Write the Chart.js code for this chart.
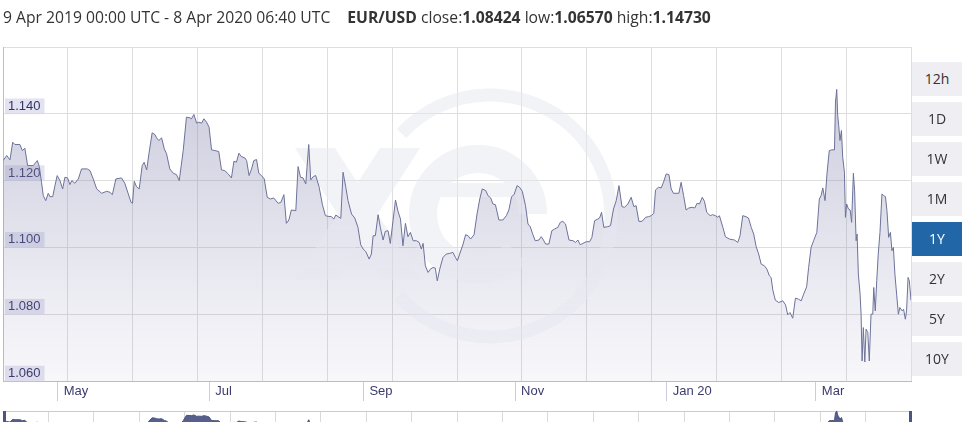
<!DOCTYPE html>
<html>
<head>
<meta charset="utf-8">
<script src="https://cdn.jsdelivr.net/npm/chart.js@4.4.0/dist/chart.umd.min.js"></script>
<style>
  html, body { margin: 0; padding: 0; background: #fff; overflow: hidden; }
  #wrap { position: relative; width: 967px; height: 422px; font-family: "Open Sans", sans-serif; }
  #main { position: absolute; left: 0; top: 0; }
  #nav { position: absolute; left: 0; top: 408px; }
  #title { position: absolute; left: 3px; top: 7px; font-size: 15.7px; line-height: 21px; color: #333; white-space: nowrap; }
  #title b { font-weight: 700; }
  .btn { position: absolute; left: 912px; width: 50px; height: 34px; line-height: 34px; text-align: center;
         background: #eeeef3; color: #333; font-size: 14px; }
  .btn.on { background: #2166a7; color: #fff; }
  .handle { position: absolute; top: 411px; width: 3px; height: 11px; background: #4c5580; }
</style>
</head>
<body>
<div id="wrap">
  <canvas id="main" width="967" height="405"></canvas>
  <canvas id="nav" width="967" height="50"></canvas>
  <div id="title">9 Apr 2019 00:00 UTC - 8 Apr 2020 06:40 UTC<span style="margin-left:17px"><b>EUR/USD</b> close:<b>1.08424</b> low:<b>1.06570</b> high:<b>1.14730</b></span></div>
  <div class="btn" style="top:62px">12h</div>
  <div class="btn" style="top:102px">1D</div>
  <div class="btn" style="top:142px">1W</div>
  <div class="btn" style="top:182px">1M</div>
  <div class="btn on" style="top:222px">1Y</div>
  <div class="btn" style="top:262px">2Y</div>
  <div class="btn" style="top:302px">5Y</div>
  <div class="btn" style="top:342px">10Y</div>
  <div class="handle" style="left:3px"></div>
  <div class="handle" style="left:909px"></div>
</div>
<script>
// days since 9 Apr 2019 00:00 UTC
var days = [
  0, 1.5, 2.8, 3.9, 4.8, 6.8, 7.8, 8.8, 9.9, 12.2, 13.8, 14.6, 15.5, 16.2, 17.2, 18.2, 18.9, 20.0, 20.9, 21.8,
  22.9, 24.0, 24.9, 26.0, 26.9, 27.7, 28.9, 30.3, 31.6, 33.9, 35.0, 36.3, 37.7, 39.7, 41.7, 43.0, 44.0, 45.4, 47.7, 49.0,
  50.4, 51.5, 52.1, 52.8, 53.7, 54.8, 56.0, 56.8, 57.8, 58.7, 60.0, 61.1, 61.8, 62.7, 63.8, 64.9, 65.8, 67.1, 68.5, 69.8,
  70.9, 72.5, 73.8, 75.2, 75.8, 76.8, 77.9, 78.8, 79.9, 80.8, 81.9, 82.9, 83.9, 85.2, 86.8, 87.9, 89.2, 90.6, 91.9, 92.9,
  93.9, 94.9, 95.9, 97.3, 98.0, 99.0, 100.0, 100.9, 102.0, 102.9, 104.0, 105.1, 106.3, 107.6, 108.9, 110.7, 111.8, 113.0, 114.0, 115.0,
  116.0, 117.8, 118.7, 119.7, 120.7, 121.8, 123.0, 123.8, 124.8, 125.8, 127.2, 128.5, 129.7, 130.8, 132.1, 133.1, 133.9, 134.8, 135.9, 136.8,
  137.9, 138.8, 140.2, 141.5, 142.8, 143.9, 144.9, 145.9, 147.3, 148.2, 148.9, 149.8, 150.9, 151.8, 152.9, 153.8, 154.9, 155.8, 156.9, 157.9,
  158.9, 159.9, 160.9, 161.9, 162.9, 163.9, 165.0, 166.3, 167.4, 168.3, 169.0, 169.9, 171.0, 171.9, 173.0, 173.9, 174.7, 175.7, 177.0, 178.3,
  179.7, 181.0, 182.0, 182.8, 183.7, 185.1, 186.1, 187.1, 188.1, 189.5, 190.7, 191.8, 192.8, 194.2, 195.1, 196.2, 197.1, 198.1, 199.5, 201.1,
  202.5, 203.5, 204.6, 205.6, 206.8, 207.8, 208.9, 210.2, 211.2, 212.1, 213.2, 214.1, 215.6, 216.5, 217.2, 218.3, 219.6, 220.8, 221.9, 223.2,
  224.2, 225.2, 226.3, 227.7, 229.3, 230.3, 231.3, 232.2, 233.3, 234.6, 236.0, 236.9, 238.0, 239.3, 240.0, 240.8, 241.7, 243.3, 244.4, 245.6,
  246.7, 247.8, 249.0, 250.0, 251.4, 252.7, 253.8, 254.7, 255.8, 257.1, 258.5, 259.7, 260.8, 261.8, 262.5, 263.7, 264.8, 265.7, 266.8, 267.9,
  268.8, 269.7, 270.8, 271.9, 272.8, 273.8, 274.8, 275.9, 277.2, 278.3, 279.2, 280.2, 281.3, 282.2, 283.1, 284.5, 285.5, 286.6, 287.6, 288.2,
  289.6, 290.6, 292.2, 294.3, 295.6, 296.5, 297.6, 298.9, 299.9, 301.0, 302.0, 303.0, 304.0, 305.0, 306.3, 307.3, 308.3, 309.0, 309.7, 310.7,
  312.1, 313.7, 314.8, 315.7, 316.6, 317.7, 318.8, 320.0, 321.1, 322.1, 323.3, 324.1, 325.1, 326.1, 327.4, 328.4, 329.1, 329.8, 330.7, 331.5,
  332.4, 333.4, 334.5, 334.9, 335.4, 335.8, 336.2, 336.7, 337.3, 337.8, 338.5, 338.9, 339.4, 340.1, 340.8, 341.4, 342.1, 342.6, 343.2, 343.6,
  344.1, 344.8, 345.2, 345.6, 346.1, 346.7, 347.2, 347.9, 348.5, 349.2, 349.9, 350.3, 350.9, 351.5, 352.1, 352.8, 353.6, 354.3, 355.0, 355.6,
  356.3, 357.0, 357.6, 358.2, 358.8, 359.5, 360.2, 360.8, 361.7, 362.3, 363.0, 363.5, 364.1, 364.6, 365.28
];
var rates = [
  1.1260, 1.1275, 1.1262, 1.1315, 1.1308, 1.1308, 1.1290, 1.1297, 1.1245, 1.1245, 1.1260, 1.1242, 1.1195, 1.1155, 1.1140, 1.1162, 1.1152, 1.1152, 1.1185, 1.1215,
  1.1200, 1.1175, 1.1210, 1.1208, 1.1188, 1.1200, 1.1192, 1.1205, 1.1235, 1.1235, 1.1230, 1.1205, 1.1175, 1.1162, 1.1168, 1.1165, 1.1158, 1.1205, 1.1208, 1.1192,
  1.1160, 1.1135, 1.1132, 1.1198, 1.1182, 1.1175, 1.1245, 1.1255, 1.1232, 1.1280, 1.1343, 1.1338, 1.1328, 1.1320, 1.1328, 1.1295, 1.1280, 1.1235, 1.1222, 1.1218,
  1.1200, 1.1290, 1.1390, 1.1388, 1.1385, 1.1398, 1.1372, 1.1375, 1.1372, 1.1385, 1.1375, 1.1360, 1.1292, 1.1290, 1.1287, 1.1232, 1.1230, 1.1220, 1.1208, 1.1258,
  1.1255, 1.1282, 1.1272, 1.1268, 1.1260, 1.1215, 1.1235, 1.1260, 1.1263, 1.1222, 1.1215, 1.1205, 1.1150, 1.1145, 1.1148, 1.1132, 1.1135, 1.1158, 1.1072, 1.1082,
  1.1112, 1.1110, 1.1242, 1.1210, 1.1208, 1.1190, 1.1308, 1.1202, 1.1212, 1.1215, 1.1180, 1.1128, 1.1095, 1.1093, 1.1092, 1.1085, 1.1097, 1.1092, 1.1087, 1.1225,
  1.1180, 1.1140, 1.1100, 1.1088, 1.1060, 1.1008, 1.0995, 1.0988, 1.0965, 1.0980, 1.1035, 1.1035, 1.1098, 1.1060, 1.1022, 1.1048, 1.1050, 1.1012, 1.1080, 1.1142,
  1.1108, 1.1085, 1.1005, 1.1072, 1.1032, 1.1045, 1.1020, 1.1020, 1.1015, 1.0995, 1.1012, 1.0945, 1.0925, 1.0935, 1.0940, 1.0938, 1.0900, 1.0935, 1.0970, 1.0980,
  1.0982, 1.0985, 1.0970, 1.0960, 1.0980, 1.1010, 1.1038, 1.1035, 1.1025, 1.1038, 1.1100, 1.1145, 1.1175, 1.1170, 1.1155, 1.1148, 1.1130, 1.1128, 1.1082, 1.1082,
  1.1095, 1.1112, 1.1152, 1.1158, 1.1185, 1.1180, 1.1168, 1.1125, 1.1070, 1.1062, 1.1038, 1.1020, 1.1022, 1.1032, 1.1025, 1.1010, 1.1010, 1.1050, 1.1055, 1.1060,
  1.1075, 1.1078, 1.1070, 1.1022, 1.1020, 1.1015, 1.1022, 1.1008, 1.1012, 1.1017, 1.1017, 1.1030, 1.1080, 1.1085, 1.1088, 1.1105, 1.1060, 1.1062, 1.1065, 1.1115,
  1.1140, 1.1185, 1.1122, 1.1120, 1.1130, 1.1150, 1.1122, 1.1125, 1.1078, 1.1078, 1.1090, 1.1092, 1.1095, 1.1102, 1.1172, 1.1180, 1.1178, 1.1195, 1.1220, 1.1218,
  1.1175, 1.1162, 1.1162, 1.1162, 1.1195, 1.1155, 1.1112, 1.1118, 1.1120, 1.1118, 1.1132, 1.1130, 1.1150, 1.1138, 1.1105, 1.1095, 1.1098, 1.1095, 1.1090, 1.1095,
  1.1060, 1.1032, 1.1025, 1.1022, 1.1015, 1.1035, 1.1095, 1.1092, 1.1088, 1.1060, 1.1040, 1.1002, 1.0980, 1.0950, 1.0945, 1.0935, 1.0915, 1.0910, 1.0872, 1.0842,
  1.0835, 1.0840, 1.0828, 1.0798, 1.0805, 1.0788, 1.0848, 1.0845, 1.0840, 1.0860, 1.0882, 1.0940, 1.1000, 1.1020, 1.1045, 1.1145, 1.1155, 1.1178, 1.1140, 1.1222,
  1.1290, 1.1292, 1.1292, 1.1435, 1.1473, 1.1395, 1.1365, 1.1320, 1.1350, 1.1270, 1.1225, 1.1090, 1.1130, 1.1115, 1.1112, 1.1075, 1.1222, 1.1170, 1.1020, 1.1040,
  1.0920, 1.0860, 1.0800, 1.0660, 1.0760, 1.0657, 1.0755, 1.0745, 1.0660, 1.0800, 1.0800, 1.0880, 1.0810, 1.0900, 1.0980, 1.1045, 1.1160, 1.1155, 1.1152, 1.1110,
  1.1030, 1.1045, 1.0990, 1.1000, 1.0920, 1.0860, 1.0800, 1.0820, 1.0810, 1.0815, 1.0785, 1.0810, 1.0910, 1.0900, 1.0842
];
var monthDays = [22, 83, 145, 206, 267, 327];
var monthLabels = ['May', 'Jul', 'Sep', 'Nov', 'Jan 20', 'Mar'];
var rateTicks = [1.06, 1.08, 1.10, 1.12, 1.14];
var rateMin = 1.06, rateMax = 1.16;
var lastDay = 365.28;

var points = days.map(function(d, i) { return {x: d, y: rates[i]}; });
var axisFont = {family: '"Liberation Sans", Arial, sans-serif', size: 13};

function areaFill(ctx) {
  var area = ctx.chart.chartArea;
  if (!area) return 'rgba(133,133,175,0.3)';
  var g = ctx.chart.ctx.createLinearGradient(0, area.top, 0, area.bottom);
  g.addColorStop(0, 'rgba(130,131,172,0.47)');
  g.addColorStop(1, 'rgba(150,150,190,0.07)');
  return g;
}

// faint "xe" logo behind the line
var watermark = {
  id: 'watermark',
  beforeDatasetDraw: function(chart) {
    var a = chart.chartArea;
    if (!this.off) {
      var off = document.createElement('canvas');
      off.width = chart.width; off.height = chart.height;
      var o = off.getContext('2d');
      o.fillStyle = o.strokeStyle = 'rgb(230,231,240)';
      o.lineWidth = 13;
      o.beginPath();
      o.arc(490, 216, 121, -137 * Math.PI / 180, 139 * Math.PI / 180);
      o.stroke();
      o.lineWidth = 28;
      o.beginPath();
      o.arc(478, 214, 55, 0, Math.PI / 4, true);
      o.stroke();
      o.fillRect(440, 183, 100, 14);
      o.beginPath();
      o.moveTo(295, 148); o.lineTo(335, 148); o.lineTo(420, 280); o.lineTo(380, 280); o.closePath();
      o.moveTo(380, 148); o.lineTo(420, 148); o.lineTo(335, 280); o.lineTo(295, 280); o.closePath();
      o.fill();
      this.off = off;
    }
    var c = chart.ctx;
    c.save();
    c.beginPath();
    c.rect(a.left, a.top, a.right - a.left, a.bottom - a.top);
    c.clip();
    c.globalAlpha = 0.5;
    c.drawImage(this.off, 0, 0);
    c.restore();
  }
};

new Chart(document.getElementById('main'), {
  type: 'line',
  data: {
    datasets: [{
      data: points,
      borderColor: '#6c7299',
      borderWidth: 1,
      backgroundColor: areaFill,
      fill: 'start',
      pointRadius: 0,
      tension: 0,
      xAxisID: 'x',
      yAxisID: 'y'
    }]
  },
  options: {
    responsive: false,
    devicePixelRatio: 1,
    animation: false,
    events: [],
    layout: {padding: {top: 47, left: 3, right: 56, bottom: 0}},
    plugins: {legend: {display: false}, tooltip: {enabled: false}},
    scales: {
      x: {
        type: 'linear', position: 'bottom', min: 0, max: lastDay,
        afterBuildTicks: function(s) { s.ticks = monthDays.map(function(v) { return {value: v}; }); },
        afterFit: function(s) { s.height = 24; },
        grid: {drawOnChartArea: false, drawTicks: true, tickLength: 20, tickColor: '#ccccde'},
        border: {color: '#b9b9d3'},
        ticks: {
          autoSkip: false, maxRotation: 0, align: 'start', labelOffset: 6, padding: -17,
          color: '#3b3b6e', font: axisFont,
          callback: function(v, i) { return monthLabels[i]; }
        }
      },
      xg: {
        type: 'linear', position: 'bottom', min: 0, max: 14,
        afterFit: function(s) { s.height = 0; },
        grid: {color: '#dedede', drawTicks: false},
        border: {display: false},
        ticks: {display: false, stepSize: 1}
      },
      y: {
        type: 'linear', position: 'left', min: rateMin, max: rateMax,
        afterFit: function(s) { s.width = 0; },
        grid: {color: '#dedede', drawTicks: false},
        border: {color: '#bcbcd2'},
        ticks: {display: false, stepSize: 0.02}
      },
      ylab: {
        type: 'linear', position: 'left', z: 1,
        min: rateMin - 0.00225, max: rateMax - 0.00225,
        afterBuildTicks: function(s) { s.ticks = rateTicks.map(function(v) { return {value: v}; }); },
        afterFit: function(s) { s.width = 0; },
        grid: {display: false},
        border: {display: false},
        ticks: {
          mirror: true, padding: 5, autoSkip: false, color: '#333366', font: axisFont,
          showLabelBackdrop: true, backdropColor: 'rgba(214,214,234,0.7)',
          backdropPadding: {top: 0, bottom: 0, left: 3, right: 4},
          callback: function(v) { return v.toFixed(3); }
        }
      }
    }
  },
  plugins: [watermark]
});

// navigator strip under the chart
new Chart(document.getElementById('nav'), {
  type: 'line',
  data: {
    datasets: [{
      data: points,
      borderColor: '#4c5580',
      borderWidth: 1,
      backgroundColor: '#56608a',
      fill: 'start',
      pointRadius: 0,
      tension: 0,
      xAxisID: 'x',
      yAxisID: 'y'
    }]
  },
  options: {
    responsive: false,
    devicePixelRatio: 1,
    animation: false,
    events: [],
    layout: {padding: {top: 3, left: 3, right: 56, bottom: 4}},
    plugins: {legend: {display: false}, tooltip: {enabled: false}},
    scales: {
      x: {type: 'linear', min: 0, max: lastDay, display: false},
      xg: {
        type: 'linear', position: 'bottom', min: 0, max: 20,
        afterFit: function(s) { s.height = 0; },
        grid: {color: '#d9d9d9', drawTicks: false},
        border: {display: false},
        ticks: {display: false, stepSize: 1}
      },
      y: {
        type: 'linear', position: 'left', min: 1.0657, max: 1.1473,
        afterBuildTicks: function(s) { s.ticks = [{value: 1.1473}]; },
        afterFit: function(s) { s.width = 0; },
        grid: {color: '#cccccc', drawTicks: false},
        border: {display: false},
        ticks: {display: false}
      }
    }
  }
});
</script>
</body>
</html>
